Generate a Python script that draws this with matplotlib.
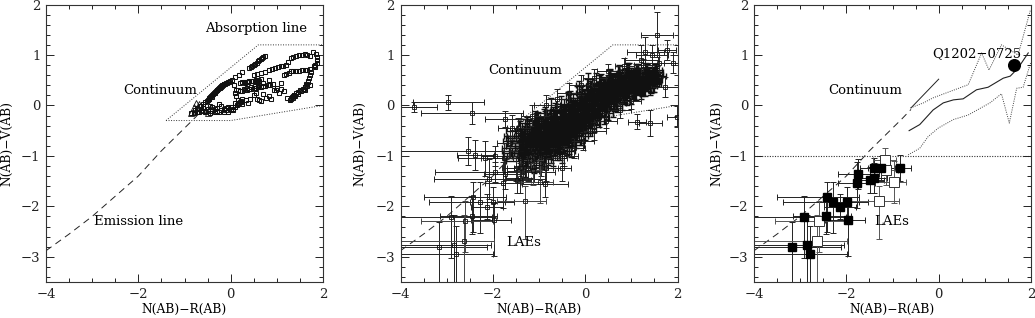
#!/usr/bin/env python3
import matplotlib
matplotlib.use("Agg")
import matplotlib.pyplot as plt
from matplotlib.ticker import MultipleLocator

plt.rcParams["font.family"] = ["DejaVu Serif"]

W, H = 1035, 318
PANEL_LEFT = [46, 400.5, 754]
PANEL_W, PANEL_H = 277, 277.5
PANEL_TOP = 4.5
YLABEL_X = [-0.14, -0.146, -0.135]
FS = 9.5
LABEL_FS = 8.8

# colour tracks, panel 1
emis_x = [-4, -3.5, -3, -2.5, -2, -1.5, -1, -0.8, -0.6]
emis_y = [-2.88, -2.55, -2.2, -1.8, -1.4, -0.9, -0.45, -0.27, -0.08]
box_top_x = [-1.4, 0.6, 2]
box_top_y = [-0.3, 1.2, 1.2]
box_bot_x = [-1.4, 0, 2]
box_bot_y = [-0.3, -0.3, 0]

track_x = [
    0.40, 0.44, 0.47, 0.50, 0.53, 0.56, 0.59, 0.62, 0.65, 0.68, 0.71, 0.74,
    -0.85, -0.78, -0.72, -0.66, -0.6, -0.55, -0.5, -0.46, -0.42, -0.38, -0.34, -0.3, -0.26, -0.22, -0.18, -0.14, -0.1, -0.06, -0.02, 0.02, 0.1, 0.18, 0.25,
    0.16, 0.2, 0.24, 0.28, 0.32, 0.36, 0.4, 0.44, 0.48, 0.52, 0.56, 0.6, 0.65,
    0.2, 0.25, 0.3, 0.35, 0.4, 0.45, 0.5, 0.55, 0.6, 0.65, 0.7, 0.75, 0.8, 0.85, 0.92,
    0.5, 0.58, 0.66, 0.74, 0.82, 0.9, 0.96, 1.02, 1.08, 1.14, 1.2, 1.25, 1.3, 1.36, 1.42, 1.48, 1.54, 1.6, 1.66, 1.72, 1.78, 1.84, 1.87, 1.88, 1.86, 1.82, 1.8, 1.83,
    1.15, 1.2, 1.26, 1.3, 1.36, 1.42, 1.48, 1.54, 1.6, 1.66, 1.72, 1.74, 1.72, 1.7, 1.68, 1.66, 1.62, 1.58, 1.52, 1.46, 1.4, 1.35, 1.3, 1.28, 1.32, 1.38, 1.72, 1.66, 1.6,
    -0.8, -0.74, -0.68, -0.62, -0.56, -0.5, -0.45, -0.4, -0.35, -0.3, -0.25, -0.2, -0.15, -0.1, -0.05, 0, 0.05, 0.1, 0.14, 0.18, 0.22, 0.25, 0.22, 0.16, 0.12, 0.1, 0.12, 0.08,
    0.34, 0.38, 0.42, 0.5, 0.56, 0.62, 0.7, 0.76, 0.82, 0.88, 0.94, 1, 1.04, 1.1, 1.15, 1.22, 0.55, 0.7, 0.84, 0.98, 0.66, 1.1,
    -0.7, -0.6, -0.5, -0.4, -0.3, -0.2, -0.1, 0.0, 0.1, 0.2,
    -0.65, -0.55, -0.45, -0.35, -0.25, -0.15, -0.05, 0.05, 0.15, 0.25,
    -0.48, -0.44, -0.4, -0.36, -0.32, -0.28, -0.24, -0.2, -0.16, -0.12,
    -0.52, -0.47, -0.41, -0.33, -0.29, -0.23, -0.19, -0.15, -0.08, -0.04,
    1.3, 1.34, 1.38, 1.42, 1.46, 1.5, 1.56, 1.6, 1.64, 1.68,
    0.3, 0.38, 0.46, 0.54, 0.62, 0.28, 0.36, 0.44, 0.52, 0.6,
]
track_y = [
    0.75, 0.77, 0.79, 0.81, 0.83, 0.85, 0.88, 0.9, 0.92, 0.94, 0.96, 0.97,
    -0.15, -0.1, -0.06, -0.02, 0.03, 0.06, 0.1, 0.14, 0.18, 0.22, 0.26, 0.3, 0.34, 0.37, 0.4, 0.42, 0.44, 0.46, 0.48, 0.5, 0.56, 0.6, 0.66,
    0.3, 0.45, 0.46, 0.46, 0.47, 0.47, 0.48, 0.48, 0.49, 0.49, 0.5, 0.5, 0.52,
    0.28, 0.29, 0.3, 0.31, 0.32, 0.33, 0.34, 0.35, 0.36, 0.37, 0.38, 0.39, 0.4, 0.41, 0.42,
    0.6, 0.62, 0.64, 0.67, 0.7, 0.73, 0.75, 0.77, 0.78, 0.79, 0.8, 0.86, 0.93, 0.96, 0.98, 0.99, 1.0, 1.01, 1.0, 0.98, 1.05, 1.02, 0.95, 0.9, 0.85, 0.8, 0.78, 0.76,
    0.6, 0.62, 0.65, 0.68, 0.68, 0.69, 0.69, 0.7, 0.7, 0.7, 0.72, 0.66, 0.6, 0.54, 0.48, 0.42, 0.36, 0.32, 0.28, 0.22, 0.18, 0.15, 0.12, 0.1, 0.16, 0.2, 0.4, 0.38, 0.3,
    -0.16, -0.14, -0.13, -0.12, -0.14, -0.11, -0.15, -0.12, -0.14, -0.11, -0.14, -0.1, -0.13, -0.1, -0.13, -0.09, -0.07, -0.03, 0.01, 0.04, 0.08, 0.12, 0.07, 0.03, 0.18, 0.24, 0.3, 0.4,
    0.1, 0.05, 0.13, 0.2, 0.12, 0.1, 0.22, 0.14, 0.18, 0.12, 0.3, 0.35, 0.25, 0.33, 0.28, 0.14, 0.25, 0.45, 0.5, 0.3, 0.09, 0.44,
    -0.08, -0.05, -0.07, -0.04, -0.06, -0.02, -0.05, -0.03, 0.05, 0.06,
    -0.02, -0.11, -0.02, -0.08, 0.02, -0.07, -0.04, -0.1, 0.1, 0.02,
    0.12, 0.16, 0.2, 0.24, 0.28, 0.33, 0.36, 0.38, 0.41, 0.43,
    0.08, 0.13, 0.17, 0.25, 0.3, 0.34, 0.39, 0.43, 0.45, 0.47,
    0.14, 0.18, 0.2, 0.24, 0.27, 0.3, 0.33, 0.36, 0.42, 0.46,
    0.44, 0.47, 0.49, 0.5, 0.48, 0.33, 0.34, 0.36, 0.38, 0.39,
]
tri_x = [-0.85, -0.8, -0.76, -0.72, -0.68, -0.62, -0.5, -0.45]
tri_y = [-0.15, -0.03, 0.04, -0.12, 0.03, -0.08, -0.15, -0.05]

# LAE candidates, panels 2 and 3
lae_x = [-3.17, -2.85, -2.79, -2.91, -2.45, -2.42, -2.28, -2.13, -1.99, -1.97, -1.77, -1.74, -1.48, -1.41, -1.4, -1.24, -0.84]
lae_y = [-2.81, -2.77, -2.94, -2.22, -2.19, -1.81, -1.92, -2.01, -1.91, -2.28, -1.53, -1.36, -1.48, -1.44, -1.25, -1.25, -1.24]
lae_xlo = [1.0, 1.3, 1.3, 1.2, 0.7, 1.08, 1.1, 0.35, 0.5, 0.5, 0.4, 0.45, 0.3, 0.3, 0.3, 0.3, 0.25]
lae_xhi = [1.05, 0.8, 0.8, 0.9, 0.55, 0.7, 0.55, 0.35, 0.45, 0.37, 0.4, 0.45, 0.3, 0.3, 0.3, 0.3, 0.25]
lae_ylo = [0.8, 0.8, 0.7, 0.8, 0.35, 0.7, 0.6, 0.25, 0.3, 0.7, 0.5, 0.3, 0.25, 0.3, 0.2, 0.25, 0.25]
lae_yhi = [0.5, 0.6, 0.55, 0.42, 0.4, 0.3, 0.4, 0.25, 0.3, 0.35, 0.4, 0.3, 0.25, 0.3, 0.2, 0.25, 0.25]
open_x = [-1.3, -0.97, -1.17, -1.13, -2.63, -2.6]
open_y = [-1.89, -1.51, -1.08, -1.28, -2.68, -2.3]
open_xlo = [0.6, 0.43, 0.25, 0.25, 1.4, 0.95]
open_xhi = [0.45, 0.27, 0.25, 0.25, 0.65, 0.6]
open_ylo = [0.75, 0.42, 0.22, 0.3, 0.85, 0.6]
open_yhi = [0.3, 0.4, 0.23, 0.3, 0.5, 0.4]

# sparse objects around the main cloud, panel 2
extra_x = [-3.7, -2.97, -2.45, -1.73, -2.53, -2.38, -2.16, -1.95, -1.75, -1.95, -2.08, -0.87, -0.5, -1.58, 1.12, 1.41, 1.98, 1.55, 1.3, 1.73, 1.91, 1.77, 1.22, -1.5, -1.35, -1.1, -0.95, -1.62, 1.6, 1.45,
           -0.7, -0.45, -0.25, -0.05, 0.2, 0.45, 0.75, 1.0, -1.45, -1.15, -0.85, -0.6, -0.35, -0.1, 0.2, 0.5, 0.85, 1.25]
extra_y = [-0.03, 0.06, -0.15, -0.27, -0.91, -0.98, -1.05, -1.01, -1.05, -1.32, -1.46, -1.56, -1.25, -0.44, -0.32, -0.35, -0.22, 1.4, 1.05, 0.36, 0.85, 1.1, 0.9, -1.25, -1.3, -1.22, -1.15, -0.75, 0.85, 1.0,
           -1.05, -1.0, -0.85, -0.7, -0.5, -0.3, -0.1, 0.08, -0.45, -0.2, 0.0, 0.12, 0.25, 0.4, 0.55, 0.68, 0.78, 0.8]
extra_xe = [0.5, 0.77, 1.1, 0.45, 1.5, 0.4, 0.6, 0.3, 0.5, 1.3, 1.2, 0.5, 0.2, 0.3, 0.2, 0.25, 0.2, 0.35, 0.4, 0.3, 0.2, 0.2, 0.35, 0.3, 0.35, 0.3, 0.25, 0.3, 0.3, 0.35,
            0.3, 0.3, 0.25, 0.25, 0.25, 0.25, 0.25, 0.2, 0.25, 0.25, 0.25, 0.25, 0.25, 0.25, 0.25, 0.25, 0.2, 0.2]
extra_ye = [0.1, 0.15, 0.22, 0.15, 0.28, 0.3, 0.35, 0.2, 0.3, 0.2, 0.4, 0.25, 0.25, 0.25, 0.15, 0.25, 0.2, 0.45, 0.3, 0.2, 0.2, 0.2, 0.3, 0.25, 0.25, 0.3, 0.25, 0.3, 0.2, 0.2,
            0.2, 0.2, 0.2, 0.18, 0.18, 0.15, 0.15, 0.15, 0.2, 0.2, 0.2, 0.2, 0.2, 0.2, 0.18, 0.15, 0.15, 0.12]

# main cloud, panel 2, one row per colour column
cloud_x = [
    -1.38, -1.42, -1.36, -1.4, -1.33, -1.39, -1.44, -1.35, -1.37, -1.41,
    -1.3, -1.34, -1.28, -1.32, -1.25, -1.31, -1.27, -1.29, -1.33, -1.26,
    -1.2, -1.24, -1.18, -1.22, -1.15, -1.21, -1.26, -1.17, -1.19, -1.23,
    -1.1, -1.14, -1.08, -1.12, -1.05, -1.11, -1.07, -1.09, -1.13, -1.06,
    -1.0, -1.04, -0.98, -1.02, -0.95, -1.01, -1.06, -0.97, -0.99, -1.03,
    -0.9, -0.94, -0.88, -0.92, -0.85, -0.91, -0.87, -0.89, -0.93, -0.86,
    -0.8, -0.84, -0.78, -0.82, -0.75, -0.81, -0.86, -0.77, -0.79, -0.83,
    -0.7, -0.74, -0.68, -0.72, -0.65, -0.71, -0.67, -0.69, -0.73, -0.66,
    -0.6, -0.64, -0.58, -0.62, -0.55, -0.61, -0.66, -0.57, -0.59, -0.63,
    -0.5, -0.54, -0.48, -0.52, -0.45, -0.51, -0.47, -0.49, -0.53, -0.46,
    -0.4, -0.44, -0.38, -0.42, -0.35, -0.41, -0.46, -0.37, -0.39, -0.43,
    -0.3, -0.34, -0.28, -0.32, -0.25, -0.31, -0.27, -0.29, -0.33, -0.26,
    -0.2, -0.24, -0.18, -0.22, -0.15, -0.21, -0.26, -0.17, -0.19, -0.23,
    -0.1, -0.14, -0.08, -0.12, -0.05, -0.11, -0.07, -0.09, -0.13, -0.06,
    0.0, -0.04, 0.02, -0.02, 0.05, -0.01, -0.06, 0.03, 0.01, -0.03,
    0.1, 0.06, 0.12, 0.08, 0.15, 0.09, 0.13, 0.11, 0.07, 0.14,
    0.2, 0.16, 0.22, 0.18, 0.25, 0.19, 0.14, 0.23, 0.21, 0.17,
    0.3, 0.26, 0.32, 0.28, 0.35, 0.29, 0.33, 0.31, 0.27, 0.34,
    0.4, 0.36, 0.42, 0.38, 0.45, 0.39, 0.34, 0.43, 0.41, 0.37,
    0.5, 0.46, 0.52, 0.48, 0.55, 0.49, 0.53, 0.51, 0.47, 0.54,
    0.6, 0.56, 0.62, 0.58, 0.65, 0.59, 0.54, 0.63, 0.61, 0.57,
    0.7, 0.66, 0.72, 0.68, 0.75, 0.69, 0.73, 0.71, 0.67, 0.74,
    0.8, 0.76, 0.82, 0.78, 0.85, 0.79, 0.74, 0.83, 0.81, 0.77,
    0.9, 0.86, 0.92, 0.88, 0.95, 0.89, 0.93, 0.91, 0.87, 0.94,
    1.0, 0.96, 1.02, 0.98, 1.05, 0.99, 0.94, 1.03, 1.01, 0.97,
    1.1, 1.06, 1.12, 1.08, 1.15, 1.09, 1.13, 1.11, 1.07, 1.14,
    1.2, 1.16, 1.22, 1.18, 1.25, 1.19, 1.14, 1.23, 1.21, 1.17,
    1.3, 1.26, 1.32, 1.28, 1.35, 1.29, 1.33, 1.31, 1.27, 1.34,
    1.4, 1.36, 1.42, 1.38, 1.45, 1.39, 1.34, 1.43, 1.41, 1.37,
    1.5, 1.46, 1.52, 1.48, 1.55, 1.49, 1.53, 1.51, 1.47, 1.54,
]
cloud_y = [
    -1.05, -0.95, -0.85, -0.75, -0.65, -0.9, -1.0, -0.8, -0.7, -0.6,
    -1.1, -1.0, -0.9, -0.8, -0.7, -0.6, -0.5, -0.95, -0.75, -0.65,
    -1.0, -0.9, -0.8, -0.7, -0.6, -0.5, -0.95, -0.75, -0.65, -0.85,
    -1.05, -0.95, -0.85, -0.75, -0.65, -0.55, -0.45, -0.35, -0.9, -0.7,
    -0.95, -0.85, -0.75, -0.65, -0.55, -0.45, -0.9, -0.7, -0.6, -0.4,
    -1.0, -0.9, -0.8, -0.7, -0.6, -0.5, -0.4, -0.3, -0.85, -0.65,
    -0.9, -0.8, -0.7, -0.6, -0.5, -0.4, -0.3, -0.75, -0.55, -0.35,
    -0.95, -0.85, -0.75, -0.65, -0.55, -0.45, -0.35, -0.25, -0.15, -0.7,
    -0.82, -0.72, -0.62, -0.52, -0.42, -0.32, -0.22, -0.67, -0.47, -0.27,
    -0.9, -0.8, -0.7, -0.6, -0.5, -0.4, -0.3, -0.2, -0.1, -0.65,
    -0.72, -0.62, -0.52, -0.42, -0.32, -0.22, -0.12, -0.02, -0.47, -0.27,
    -0.78, -0.68, -0.58, -0.48, -0.38, -0.28, -0.18, -0.08, 0.02, -0.43,
    -0.6, -0.5, -0.4, -0.3, -0.2, -0.1, 0.0, 0.1, -0.35, -0.15,
    -0.55, -0.45, -0.35, -0.25, -0.15, -0.05, 0.05, 0.15, 0.22, -0.3,
    -0.45, -0.35, -0.25, -0.15, -0.05, 0.05, 0.15, 0.25, -0.1, 0.1,
    -0.38, -0.28, -0.18, -0.08, 0.02, 0.12, 0.22, 0.32, 0.4, 0.0,
    -0.3, -0.2, -0.1, 0.0, 0.1, 0.2, 0.3, 0.38, 0.05, 0.25,
    -0.22, -0.12, -0.02, 0.08, 0.18, 0.28, 0.38, 0.45, 0.05, 0.25,
    -0.15, -0.05, 0.05, 0.15, 0.25, 0.35, 0.42, 0.1, 0.3, 0.2,
    -0.08, 0.02, 0.12, 0.22, 0.32, 0.42, 0.5, 0.56, 0.17, 0.37,
    -0.02, 0.08, 0.18, 0.28, 0.38, 0.46, 0.52, 0.13, 0.33, 0.23,
    0.05, 0.15, 0.25, 0.35, 0.45, 0.52, 0.58, 0.64, 0.3, 0.4,
    0.1, 0.2, 0.3, 0.4, 0.5, 0.56, 0.62, 0.25, 0.45, 0.35,
    0.18, 0.26, 0.34, 0.42, 0.5, 0.58, 0.64, 0.7, 0.38, 0.46,
    0.22, 0.3, 0.38, 0.46, 0.54, 0.6, 0.66, 0.34, 0.5, 0.42,
    0.27, 0.33, 0.39, 0.45, 0.51, 0.57, 0.63, 0.68, 0.42, 0.54,
    0.3, 0.36, 0.42, 0.48, 0.54, 0.6, 0.65, 0.39, 0.51, 0.45,
    0.35, 0.4, 0.45, 0.5, 0.55, 0.6, 0.65, 0.7, 0.48, 0.58,
    0.38, 0.43, 0.48, 0.53, 0.58, 0.62, 0.66, 0.45, 0.55, 0.5,
    0.42, 0.46, 0.5, 0.54, 0.58, 0.62, 0.66, 0.7, 0.52, 0.6,
]
cloud_xe = [
    0.4, 0.35, 0.45, 0.3, 0.38, 0.42, 0.32, 0.36, 0.4, 0.34,
    0.42, 0.36, 0.3, 0.4, 0.34, 0.38, 0.44, 0.32, 0.37, 0.41,
    0.38, 0.42, 0.33, 0.36, 0.4, 0.3, 0.35, 0.43, 0.31, 0.39,
    0.36, 0.4, 0.44, 0.3, 0.33, 0.38, 0.41, 0.35, 0.29, 0.37,
    0.35, 0.3, 0.4, 0.33, 0.38, 0.28, 0.36, 0.42, 0.31, 0.34,
    0.33, 0.37, 0.29, 0.4, 0.35, 0.31, 0.26, 0.38, 0.34, 0.3,
    0.32, 0.36, 0.28, 0.34, 0.39, 0.3, 0.25, 0.37, 0.33, 0.29,
    0.3, 0.35, 0.27, 0.33, 0.38, 0.28, 0.24, 0.36, 0.31, 0.26,
    0.3, 0.26, 0.34, 0.28, 0.36, 0.24, 0.32, 0.29, 0.25, 0.33,
    0.28, 0.33, 0.25, 0.31, 0.35, 0.23, 0.29, 0.26, 0.32, 0.27,
    0.28, 0.24, 0.32, 0.26, 0.34, 0.22, 0.3, 0.27, 0.23, 0.31,
    0.27, 0.31, 0.23, 0.29, 0.33, 0.21, 0.28, 0.25, 0.3, 0.26,
    0.26, 0.22, 0.3, 0.24, 0.32, 0.2, 0.28, 0.25, 0.21, 0.29,
    0.25, 0.29, 0.22, 0.27, 0.31, 0.19, 0.26, 0.23, 0.28, 0.24,
    0.24, 0.2, 0.28, 0.22, 0.3, 0.18, 0.26, 0.23, 0.2, 0.27,
    0.23, 0.27, 0.2, 0.25, 0.29, 0.18, 0.24, 0.21, 0.26, 0.22,
    0.22, 0.18, 0.26, 0.2, 0.28, 0.17, 0.24, 0.21, 0.19, 0.25,
    0.21, 0.25, 0.18, 0.23, 0.27, 0.17, 0.22, 0.2, 0.24, 0.2,
    0.2, 0.17, 0.24, 0.19, 0.26, 0.16, 0.22, 0.2, 0.18, 0.23,
    0.2, 0.24, 0.17, 0.22, 0.26, 0.16, 0.21, 0.19, 0.23, 0.18,
    0.19, 0.16, 0.23, 0.18, 0.25, 0.15, 0.21, 0.19, 0.17, 0.22,
    0.19, 0.23, 0.16, 0.21, 0.25, 0.15, 0.2, 0.18, 0.22, 0.17,
    0.18, 0.16, 0.22, 0.17, 0.24, 0.15, 0.2, 0.18, 0.16, 0.21,
    0.18, 0.22, 0.15, 0.2, 0.24, 0.15, 0.19, 0.17, 0.21, 0.16,
    0.18, 0.15, 0.21, 0.17, 0.23, 0.14, 0.2, 0.18, 0.16, 0.2,
    0.17, 0.21, 0.15, 0.19, 0.23, 0.14, 0.18, 0.16, 0.2, 0.15,
    0.17, 0.15, 0.2, 0.16, 0.22, 0.14, 0.19, 0.17, 0.15, 0.2,
    0.16, 0.2, 0.14, 0.18, 0.22, 0.14, 0.17, 0.15, 0.19, 0.15,
    0.16, 0.14, 0.2, 0.15, 0.21, 0.13, 0.18, 0.16, 0.15, 0.19,
    0.15, 0.19, 0.14, 0.17, 0.2, 0.13, 0.16, 0.15, 0.18, 0.14,
]
cloud_ye = [
    0.3, 0.26, 0.34, 0.28, 0.24, 0.32, 0.27, 0.3, 0.25, 0.29,
    0.32, 0.28, 0.24, 0.3, 0.26, 0.34, 0.27, 0.25, 0.31, 0.29,
    0.3, 0.34, 0.26, 0.28, 0.32, 0.24, 0.27, 0.33, 0.25, 0.29,
    0.28, 0.32, 0.25, 0.3, 0.34, 0.26, 0.29, 0.23, 0.31, 0.27,
    0.29, 0.25, 0.33, 0.27, 0.31, 0.23, 0.28, 0.32, 0.24, 0.26,
    0.27, 0.31, 0.24, 0.29, 0.33, 0.25, 0.28, 0.22, 0.3, 0.26,
    0.28, 0.24, 0.32, 0.26, 0.3, 0.22, 0.27, 0.31, 0.23, 0.25,
    0.26, 0.3, 0.23, 0.28, 0.32, 0.24, 0.27, 0.21, 0.29, 0.25,
    0.27, 0.23, 0.31, 0.25, 0.29, 0.21, 0.26, 0.3, 0.22, 0.24,
    0.25, 0.29, 0.22, 0.27, 0.31, 0.23, 0.26, 0.2, 0.28, 0.24,
    0.26, 0.22, 0.3, 0.24, 0.28, 0.2, 0.25, 0.29, 0.21, 0.23,
    0.24, 0.28, 0.21, 0.26, 0.3, 0.22, 0.25, 0.19, 0.27, 0.23,
    0.25, 0.21, 0.29, 0.23, 0.27, 0.19, 0.24, 0.28, 0.2, 0.22,
    0.23, 0.27, 0.2, 0.25, 0.29, 0.21, 0.24, 0.18, 0.26, 0.22,
    0.24, 0.2, 0.28, 0.22, 0.26, 0.18, 0.23, 0.27, 0.19, 0.21,
    0.22, 0.26, 0.19, 0.24, 0.28, 0.2, 0.23, 0.17, 0.25, 0.21,
    0.23, 0.19, 0.27, 0.21, 0.25, 0.17, 0.22, 0.26, 0.18, 0.2,
    0.21, 0.25, 0.18, 0.23, 0.27, 0.19, 0.22, 0.16, 0.24, 0.2,
    0.22, 0.18, 0.26, 0.2, 0.24, 0.16, 0.21, 0.25, 0.17, 0.19,
    0.2, 0.24, 0.17, 0.22, 0.26, 0.18, 0.21, 0.15, 0.23, 0.19,
    0.21, 0.17, 0.25, 0.19, 0.23, 0.15, 0.2, 0.24, 0.16, 0.18,
    0.19, 0.23, 0.16, 0.21, 0.25, 0.17, 0.2, 0.15, 0.22, 0.18,
    0.2, 0.16, 0.24, 0.18, 0.22, 0.15, 0.19, 0.23, 0.16, 0.17,
    0.18, 0.22, 0.15, 0.2, 0.24, 0.16, 0.19, 0.15, 0.21, 0.17,
    0.19, 0.15, 0.23, 0.17, 0.21, 0.14, 0.18, 0.22, 0.15, 0.16,
    0.17, 0.21, 0.15, 0.19, 0.23, 0.15, 0.18, 0.14, 0.2, 0.16,
    0.18, 0.15, 0.22, 0.16, 0.2, 0.14, 0.17, 0.21, 0.15, 0.16,
    0.16, 0.2, 0.14, 0.18, 0.22, 0.15, 0.17, 0.14, 0.19, 0.15,
    0.17, 0.14, 0.21, 0.16, 0.19, 0.13, 0.16, 0.2, 0.14, 0.15,
    0.16, 0.19, 0.14, 0.17, 0.2, 0.14, 0.16, 0.13, 0.18, 0.15,
]

# model envelope, panel 3
model_x = [-0.64, -0.41, -0.12, 0.1, 0.32, 0.53, 0.82, 1.07, 1.4, 1.55, 1.72, 1.94]
model_y = [-0.5, -0.38, -0.09, 0.05, 0.11, 0.13, 0.31, 0.36, 0.54, 0.58, 0.74, 1.04]
upper_x = [-0.61, -0.33, -0.12, 0.17, 0.64, 0.93, 1.09, 1.36, 1.72, 1.87, 1.99]
upper_y = [-0.05, 0.05, 0.15, 0.25, 0.41, 1.04, 0.7, 1.2, 1.0, 1.5, 1.9]
lower_x = [-0.66, -0.41, -0.23, -0.01, 0.32, 0.64, 1.11, 1.36, 1.53, 1.69, 1.83, 1.99]
lower_y = [-0.98, -0.85, -0.62, -0.45, -0.28, -0.19, 0.05, 0.23, -0.35, 0.34, 0.36, 0.84]
cont_x = [-0.6, 0]
cont_y = [-0.05, 0.52]
qso_x, qso_y = [1.63], [0.8]


def make_axes(fig, i):
    ax = fig.add_axes([PANEL_LEFT[i] / W, 1 - (PANEL_TOP + PANEL_H) / H, PANEL_W / W, PANEL_H / H])
    ax.set_xlim(-4, 2)
    ax.set_ylim(-3.5, 2)
    ax.xaxis.set_major_locator(MultipleLocator(2))
    ax.xaxis.set_minor_locator(MultipleLocator(0.5))
    ax.yaxis.set_major_locator(MultipleLocator(1))
    ax.yaxis.set_minor_locator(MultipleLocator(0.2))
    ax.tick_params(which="both", direction="in", top=True, right=True, width=0.7, colors="#222222")
    ax.tick_params(which="major", length=6, labelsize=FS, pad=4)
    ax.tick_params(which="minor", length=3)
    for sp in ax.spines.values():
        sp.set_linewidth(0.8)
        sp.set_color("#333333")
    ax.set_xlabel("N(AB)\u2212R(AB)", fontsize=LABEL_FS)
    ax.set_ylabel("N(AB)\u2212V(AB)", fontsize=LABEL_FS)
    ax.xaxis.set_label_coords(0.5, -0.1)
    ax.yaxis.set_label_coords(YLABEL_X[i], 0.5)
    ax.xaxis.label.set_va("center")
    ax.yaxis.label.set_va("center")
    return ax


def draw_bars(ax, x, y, xe, ye, color="#222222", lw=0.7):
    ax.errorbar(x, y, xerr=xe, yerr=ye, fmt="none", ecolor=color, elinewidth=lw, capsize=2.2, capthick=lw, zorder=2)


def draw_box(ax):
    ax.plot(box_top_x, box_top_y, color="#333333", lw=0.7, ls=(0, (1, 1.6)), zorder=1)
    ax.plot(box_bot_x, box_bot_y, color="#333333", lw=0.7, ls=(0, (1, 1.6)), zorder=1)


def draw_emis(ax):
    ax.plot(emis_x, emis_y, color="#222222", lw=0.7, ls=(0, (7, 5)), zorder=1)


fig = plt.figure(figsize=(W / 100, H / 100), dpi=100)

ax1 = make_axes(fig, 0)
draw_emis(ax1)
draw_box(ax1)
ax1.plot(track_x, track_y, ls="none", marker="s", ms=3.4, mfc="none", mec="#111111", mew=0.75, zorder=3)
ax1.plot(tri_x, tri_y, ls="none", marker="^", ms=3.8, mfc="none", mec="#111111", mew=0.6, zorder=3)
ax1.text(0.56, 1.52, "Absorption line", fontsize=FS, ha="center", va="center")
ax1.text(-1.52, 0.3, "Continuum", fontsize=FS, ha="center", va="center")
ax1.text(-2, -2.3, "Emission line", fontsize=FS, ha="center", va="center")

ax2 = make_axes(fig, 1)
draw_emis(ax2)
draw_box(ax2)
draw_bars(ax2, cloud_x, cloud_y, cloud_xe, cloud_ye, color="#111111", lw=1.0)
draw_bars(ax2, extra_x, extra_y, extra_xe, extra_ye)
draw_bars(ax2, lae_x, lae_y, [lae_xlo, lae_xhi], [lae_ylo, lae_yhi])
draw_bars(ax2, open_x, open_y, [open_xlo, open_xhi], [open_ylo, open_yhi], color="#444444")
for xs, ys in [(cloud_x, cloud_y), (extra_x, extra_y), (lae_x, lae_y), (open_x, open_y)]:
    ax2.plot(xs, ys, ls="none", marker="s", ms=2.8, mfc="none", mec="#111111", mew=0.6, zorder=3)
ax2.text(-1.31, 0.7, "Continuum", fontsize=FS, ha="center", va="center")
ax2.text(-1.33, -2.72, "LAEs", fontsize=FS, ha="center", va="center")

ax3 = make_axes(fig, 2)
draw_emis(ax3)
ax3.plot(cont_x, cont_y, color="#222222", lw=0.7, zorder=1)
ax3.axhline(-1, color="#333333", lw=0.8, ls=(0, (1, 1.3)), zorder=1)
ax3.plot(model_x, model_y, color="#222222", lw=0.8, zorder=1)
ax3.plot(upper_x, upper_y, color="#444444", lw=0.7, ls=(0, (1, 1.3)), zorder=1)
ax3.plot(lower_x, lower_y, color="#444444", lw=0.7, ls=(0, (1, 1.3)), zorder=1)
draw_bars(ax3, lae_x, lae_y, [lae_xlo, lae_xhi], [lae_ylo, lae_yhi])
draw_bars(ax3, open_x, open_y, [open_xlo, open_xhi], [open_ylo, open_yhi], color="#555555")
ax3.plot(open_x, open_y, ls="none", marker="s", ms=6.6, mfc="white", mec="#333333", mew=0.7, zorder=3)
ax3.plot(lae_x, lae_y, ls="none", marker="s", ms=6.4, color="black", zorder=4)
ax3.plot(qso_x, qso_y, ls="none", marker="o", ms=8.4, color="black", zorder=4)
ax3.text(-1.6, 0.3, "Continuum", fontsize=FS, ha="center", va="center")
ax3.text(-1.02, -2.3, "LAEs", fontsize=FS, ha="center", va="center")
ax3.text(0.82, 1.02, "Q1202\u22120725", fontsize=FS, ha="center", va="center")

fig.savefig("out.png", dpi=100)
plt.close(fig)
